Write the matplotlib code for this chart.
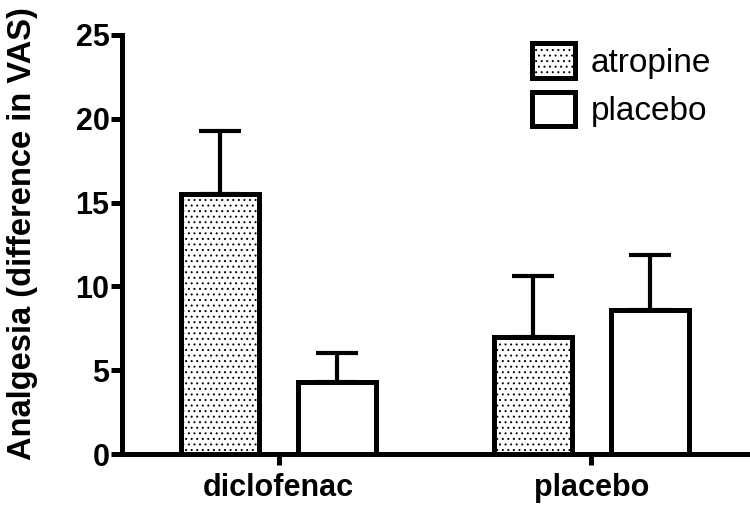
import matplotlib.pyplot as plt
import numpy as np

plt.rcParams['font.family'] = ['Liberation Sans', 'DejaVu Sans']
plt.rcParams['hatch.linewidth'] = 0.7

groups = ['diclofenac', 'placebo']
atropine_mean = [15.5, 7.0]
atropine_err = [3.8, 3.6]
placebo_mean = [4.3, 8.6]
placebo_err = [1.7, 3.3]

x = np.arange(len(groups))
width = 0.25
off = 0.187
lw = 3.6

fig = plt.figure(figsize=(7.5, 5.07), dpi=100)
ax = fig.add_axes([0.1627, 0.1045, 0.8346, 0.8265])

ax.bar(x - off, atropine_mean, width, color='white', edgecolor='black',
       linewidth=lw, hatch='...', label='atropine', zorder=3,
       yerr=[np.zeros(2), atropine_err],
       error_kw=dict(elinewidth=3, capsize=15, capthick=3, ecolor='black'))
ax.bar(x + off, placebo_mean, width, color='white', edgecolor='black',
       linewidth=lw, label='placebo', zorder=3,
       yerr=[np.zeros(2), placebo_err],
       error_kw=dict(elinewidth=3, capsize=15, capthick=3, ecolor='black'))

ax.set_xlim(-0.5, 1.5)
ax.set_ylim(0, 25)
ax.set_yticks([0, 5, 10, 15, 20, 25])
ax.set_xticks(x)
ax.set_xticklabels(groups, fontsize=22, fontweight='bold')
for lab in ax.get_yticklabels():
    lab.set_fontsize(22)
    lab.set_fontweight('bold')

for s in ['top', 'right']:
    ax.spines[s].set_visible(False)
for s in ['left', 'bottom']:
    ax.spines[s].set_linewidth(lw)
    ax.spines[s].set_zorder(4)

ax.tick_params(axis='y', length=8, width=lw, pad=1)
ax.tick_params(axis='x', length=8, width=lw, pad=6)

ax.set_ylabel('Analgesia (difference in VAS)', fontsize=23.5, fontweight='bold')
ax.yaxis.set_label_coords(-0.134, 0.527)

ax.legend(loc='upper left', bbox_to_anchor=(0.655, 0.98), frameon=False,
          fontsize=24, handlelength=1.3, handleheight=1.2, handletextpad=0.45,
          borderpad=0, borderaxespad=0, labelspacing=0.4)

fig.savefig('out.png', dpi=100)
